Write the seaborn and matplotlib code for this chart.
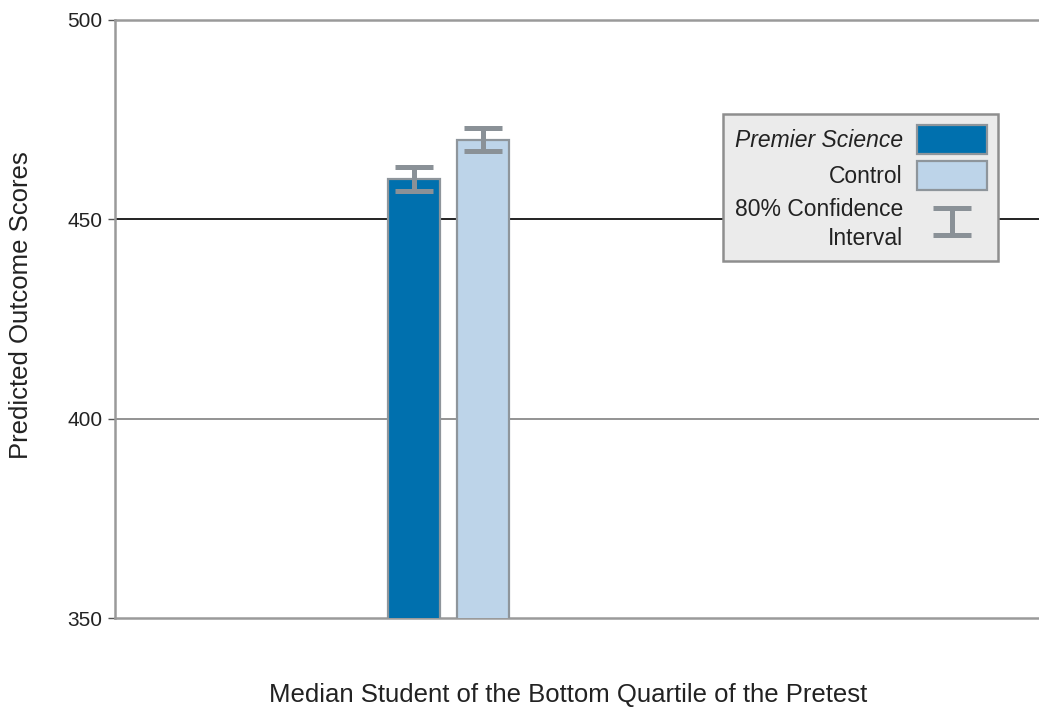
import matplotlib
matplotlib.use("Agg")
import matplotlib.pyplot as plt
import seaborn as sns
import pandas as pd
from matplotlib.patches import Patch
from matplotlib.legend_handler import HandlerErrorbar

# Predicted outcome scores for the median student of the bottom pretest quartile
groups = ["Premier Science", "Control"]
scores = [460, 470]
ci80_half = [3.0, 2.8]
y_ticks = [350, 400, 450, 500]
x_label = "Median Student of the Bottom Quartile of the Pretest"
y_label = "Predicted Outcome Scores"
ci_label = "80% Confidence\nInterval"

bar_colors = ["#0070ae", "#bdd4e9"]
edge_gray = "#8e959b"
err_gray = "#8a9197"
text_col = "#222222"

sns.set_theme(style="white")
plt.rcParams["font.family"] = ["Liberation Sans", "DejaVu Sans"]

fig = plt.figure(figsize=(10.39, 7.08), dpi=100)
ax = fig.add_axes([0.1107, 0.1271, 0.8893, 0.8447])

df = pd.DataFrame({"group": groups, "score": scores})
sns.barplot(data=df, x="group", y="score", hue="group", palette=bar_colors,
            saturation=1, width=0.75, edgecolor=edge_gray, linewidth=1.6,
            legend=False, ax=ax, zorder=3)

eb = ax.errorbar(range(len(groups)), scores, yerr=ci80_half, fmt="none",
                 ecolor=err_gray, elinewidth=3.6, capsize=13.8, capthick=3.6,
                 zorder=4)

ax.set_ylim(350, 500)
ax.set_xlim(-4.33, 9.06)
ax.set_yticks(y_ticks)
ax.set_xticks([])
ax.tick_params(axis="y", which="both", left=True, length=5, width=1,
               color="#555555", labelsize=15, labelcolor=text_col, pad=4)

# horizontal reference lines
ax.axhline(400, color="#8a8a8a", lw=1.3, zorder=1)
ax.axhline(450, color="#111111", lw=1.3, zorder=1)

for side in ["top", "left", "bottom"]:
    ax.spines[side].set_visible(True)
    ax.spines[side].set_color("#9a9a9a")
    ax.spines[side].set_linewidth(1.8)
ax.spines["right"].set_visible(False)

ax.set_xlabel(x_label, fontsize=18.5, color=text_col)
ax.set_ylabel(y_label, fontsize=18.5, color=text_col)
ax.xaxis.set_label_coords(0.49, -0.108)
ax.yaxis.set_label_coords(-0.0887, 0.524)

handles = [Patch(facecolor=bar_colors[0], edgecolor=edge_gray, linewidth=1.6),
           Patch(facecolor=bar_colors[1], edgecolor=edge_gray, linewidth=1.6),
           eb]
labels = [groups[0], groups[1], ci_label]
leg = ax.legend(handles, labels, loc="upper right",
                bbox_to_anchor=(0.9556, 0.8428), markerfirst=False,
                fontsize=16.5, handlelength=3.05, handleheight=1.55,
                handletextpad=0.6, labelspacing=0.32, borderpad=0.5,
                borderaxespad=0, fancybox=False, framealpha=1,
                facecolor="#ebebeb", edgecolor="#8e8e8e",
                handler_map={type(eb): HandlerErrorbar(xerr_size=0.6, yerr_size=0.58)})
leg.get_frame().set_linewidth(1.8)
leg.set_zorder(5)
texts = leg.get_texts()
texts[0].set_fontstyle("italic")
for t in texts:
    t.set_multialignment("right")
    t.set_linespacing(1.35)
    t.set_color(text_col)

fig.savefig("out.png", dpi=100)
